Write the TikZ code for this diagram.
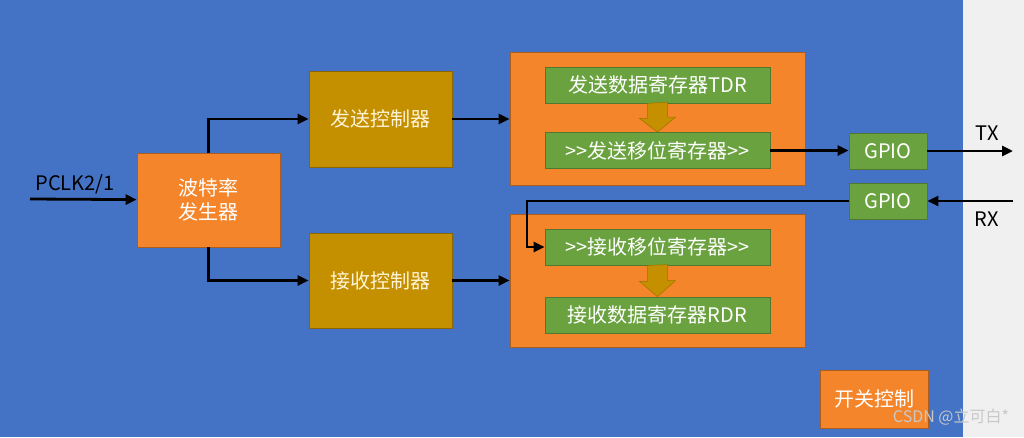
\documentclass[tikz,border=0pt]{standalone}
\usepackage{fontspec}
\setmainfont{Noto Sans CJK SC}
\usetikzlibrary{arrows.meta}
\definecolor{slideblue}{HTML}{4472C4}
\definecolor{stripgray}{HTML}{F0F0F0}
\definecolor{boxorange}{HTML}{F5852A}
\definecolor{boxgold}{HTML}{C49000}
\definecolor{goldtext}{HTML}{FFF4D6}
\definecolor{boxgreen}{HTML}{6AA23F}
\definecolor{marktext}{HTML}{C8C8C8}
\tikzset{
  blockbase/.style={draw, line width=0.8pt, inner sep=0pt, align=center,
    font=\fontsize{20}{24}\selectfont},
  orangebox/.style={blockbase, fill=boxorange, draw=boxorange!70!black, text=white},
  goldbox/.style={blockbase, fill=boxgold, draw=boxgold!70!black, text=goldtext},
  greenbox/.style={blockbase, fill=boxgreen, draw=boxgreen!75!black, text=white},
  conn/.style={line width=2.8pt, -{Triangle[length=11pt,width=10pt]}},
  sidelabel/.style={font=\fontsize{20}{24}\selectfont, text=black, inner sep=0pt},
}

\begin{document}
\begin{tikzpicture}[x=1pt, y=-1pt]
    \fill[slideblue] (0,0) rectangle (963,437);
    \fill[stripgray] (963,0) rectangle (1024,437);
    \useasboundingbox (0,0) rectangle (1024,437);
    % blocks
    \node[orangebox, minimum width=143pt, minimum height=94pt] (baud) at (208.5,200) {波特率\\发生器};
    \node[goldbox, minimum width=143pt, minimum height=96pt] (txctrl) at (380.5,119) {发送控制器};
    \node[goldbox, minimum width=143pt, minimum height=95pt] (rxctrl) at (380.5,280.5) {接收控制器};
    \node[orangebox, minimum width=295pt, minimum height=133pt] (txbig) at (657.5,118.5) {};
    \node[orangebox, minimum width=295pt, minimum height=133pt] (rxbig) at (657.5,280.5) {};
    \node[greenbox, minimum width=225pt, minimum height=36pt] (tdr) at (657.5,85) {发送数据寄存器TDR};
    \node[greenbox, minimum width=225pt, minimum height=36pt] (tsr) at (657.5,150.5) {>{}>发送移位寄存器>{}>};
    \node[greenbox, minimum width=225pt, minimum height=36pt] (rsr) at (657.5,247) {>{}>接收移位寄存器>{}>};
    \node[greenbox, minimum width=225pt, minimum height=36pt] (rdr) at (657.5,315) {接收数据寄存器RDR};
    \node[greenbox, minimum width=78pt, minimum height=36pt] (gpiotx) at (888,151) {GPIO};
    \node[greenbox, minimum width=78pt, minimum height=36pt] (gpiorx) at (888,201) {GPIO};
    \node[orangebox, minimum width=108pt, minimum height=58pt] (switch) at (874,399) {开关控制};
    % block arrows between registers
    \fill[boxgold, draw=boxgold!80!black, line width=0.5pt] (tdr.south) ++(-10,0) -- ++(0,15) -- ++(-8,0)
        -- (tsr.north) -- ++(18,-15) -- ++(-8,0) -- ++(0,-15) -- cycle;
    \fill[boxgold, draw=boxgold!80!black, line width=0.5pt] (rsr.south) ++(-10,0) -- ++(0,16) -- ++(-8,0)
        -- (rdr.north) -- ++(18,-16) -- ++(-8,0) -- ++(0,-16) -- cycle;
    % labels
    \node[sidelabel] (pclklabel) at (75,184) {PCLK2/1};
    \node[sidelabel] (txlabel) at (987,133) {TX};
    \node[sidelabel] (rxlabel) at (987,219) {RX};
    \coordinate (pclk) at (30,199);
    \coordinate (tx) at (1013,151);
    \coordinate (rx) at (1013,201);
    \coordinate (rxbend) at (527,247);
    % connectors
    \draw[conn] (pclk) -- (baud);
    \draw[conn] (baud.north) |- (txctrl.west);
    \draw[conn] (baud.south) |- (rxctrl.west);
    \draw[conn] (txctrl.east) -- (txbig.west |- txctrl.east);
    \draw[conn] (rxctrl.east) -- (rxbig.west);
    \draw[conn] (tsr.east) -- (gpiotx.west |- tsr.east);
    \draw[conn] (gpiotx.east) -- (tx);
    \draw[conn] (rx) -- (gpiorx.east);
    \draw[conn] (gpiorx.west) -| (rxbend) -- (rsr.west);
    % watermark
    \node[font=\fontsize{16}{18}\selectfont, text=marktext, inner sep=0pt] (mark) at (951,417) {CSDN @立可白*};
\end{tikzpicture}
\end{document}
